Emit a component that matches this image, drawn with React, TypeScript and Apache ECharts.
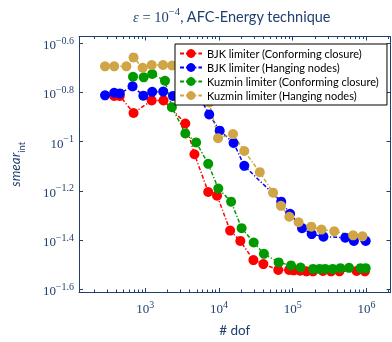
import React, { useEffect, useRef } from 'react';
import * as echarts from 'echarts';

// ---------- data ----------
const seriesNames = [
  'BJK limiter (Conforming closure)',
  'BJK limiter (Hanging nodes)',
  'Kuzmin limiter (Conforming closure)',
  'Kuzmin limiter (Hanging nodes)',
];
const seriesColors = ['#ff0000', '#0000ff', '#009a00', '#cfa545'];

const bjkConfDof = [378, 450, 692, 1221, 1765, 3488, 4642, 7134, 9404, 14150, 19470, 29290, 40000, 63680, 89270, 103100, 125900, 153700, 188800, 256600, 331100, 429900, 735600, 955000];
const bjkConfSmear = [0.1532, 0.1532, 0.1306, 0.1469, 0.1469, 0.1184, 0.0888, 0.0624, 0.0603, 0.0435, 0.0395, 0.0330, 0.0318, 0.0301, 0.0301, 0.0300, 0.0299, 0.0297, 0.0297, 0.0298, 0.0297, 0.0297, 0.0298, 0.0297];

const bjkHangDof = [284, 378, 450, 671, 941, 1240, 1748, 2377, 3744, 5412, 7356, 10216, 15750, 22020, 69820, 92040, 133850, 180900, 261400, 516800, 677000, 978800];
const bjkHangSmear = [0.1540, 0.1578, 0.1568, 0.1676, 0.1536, 0.1592, 0.1595, 0.1532, 0.1536, 0.1524, 0.1289, 0.1107, 0.0987, 0.0797, 0.0570, 0.0509, 0.0445, 0.0421, 0.0411, 0.0407, 0.0395, 0.0395];

const kuzConfDof = [681, 950, 1240, 1848, 2291, 3488, 4891, 7134, 9787, 14588, 20263, 29560, 40680, 64460, 94900, 127880, 188800, 231200, 275400, 349000, 443400, 580800, 831800, 978800];
const kuzConfSmear = [0.1833, 0.1823, 0.1880, 0.1766, 0.1379, 0.1079, 0.0992, 0.0812, 0.0644, 0.0570, 0.0445, 0.0389, 0.0350, 0.0323, 0.0314, 0.0308, 0.0304, 0.0304, 0.0304, 0.0304, 0.0306, 0.0307, 0.0306, 0.0306];

const kuzHangDof = [284, 378, 553, 692, 920, 1221, 1738, 2312, 3521, 5090, 7356, 9698, 15490, 22020, 35750, 54120, 69180, 89840, 120230, 179200, 245800, 366400, 660700, 884700];
const kuzHangSmear = [0.2020, 0.2020, 0.2020, 0.2196, 0.1994, 0.2045, 0.2045, 0.2035, 0.1976, 0.1806, 0.1442, 0.1032, 0.1072, 0.0915, 0.0751, 0.0620, 0.0548, 0.0495, 0.0470, 0.0451, 0.0439, 0.0432, 0.0416, 0.0412];

// tick labels (exponents of 10)
const xTickExponents = [3, 4, 5, 6];
const yTickExponents = [-0.6, -0.8, -1, -1.2, -1.4, -1.6];

// axis range (log10 units)
const xLogMin = 2.1;
const xLogMax = 6.327;
const yLogMin = -1.611;
const yLogMax = -0.5735;

const titleMath = 'ε';
const titleRest = ', AFC-Energy technique';
const xName = '# dof';

const allDof = [bjkConfDof, bjkHangDof, kuzConfDof, kuzHangDof];
const allSmear = [bjkConfSmear, bjkHangSmear, kuzConfSmear, kuzHangSmear];

const axisColor = '#203f6e';

function fmtExp(v: number): string {
  const r = Math.round(v * 10) / 10;
  return String(r).replace('-', '−');
}

const minorX: number[] = [];
for (let n = 2; n <= 6; n++) {
  for (let k = 2; k <= 9; k++) {
    const l = Math.log10(k * Math.pow(10, n));
    if (l > xLogMin && l < xLogMax) minorX.push(l);
  }
}

const labelRich = {
  b: { fontFamily: 'Liberation Serif', fontSize: 13, color: axisColor, lineHeight: 16, verticalAlign: 'bottom' },
  s: { fontFamily: 'Liberation Serif', fontSize: 10, color: axisColor, lineHeight: 10, verticalAlign: 'top' },
};

export default function App() {
  const ref = useRef<HTMLDivElement>(null);
  useEffect(() => {
    if (!ref.current) return;
    const chart = echarts.init(ref.current, null, { renderer: 'svg' });
    const baseX = { type: 'value', min: xLogMin, max: xLogMax, splitLine: { show: false } };
    const baseY = { type: 'value', min: yLogMin, max: yLogMax, splitLine: { show: false } };
    const option: any = {
      animation: false,
      grid: { left: 73.5, right: 1.5, top: 36.5, bottom: 39.7, containLabel: false },
      xAxis: [
        {
          ...baseX,
          position: 'bottom',
          axisLine: { show: true, lineStyle: { color: axisColor, width: 1 } },
          axisTick: { show: true, inside: true, length: 4, customValues: xTickExponents, lineStyle: { color: axisColor } },
          axisLabel: {
            customValues: xTickExponents,
            margin: 7,
            formatter: (v: number) => `{b|10}{s|${fmtExp(v)}}`,
            rich: labelRich,
          },
          name: xName,
          nameLocation: 'middle',
          nameGap: 31,
          nameTextStyle: { fontFamily: 'Lato', fontSize: 13.5, color: axisColor },
        },
        {
          ...baseX,
          position: 'bottom',
          axisLine: { show: false },
          axisTick: { show: true, inside: true, length: 2.5, customValues: minorX, lineStyle: { color: axisColor } },
          axisLabel: { show: false },
        },
        {
          ...baseX,
          position: 'top',
          axisLine: { show: true, lineStyle: { color: axisColor, width: 1 } },
          axisTick: { show: true, inside: true, length: 4, customValues: xTickExponents, lineStyle: { color: axisColor } },
          axisLabel: { show: false },
        },
        {
          ...baseX,
          position: 'top',
          axisLine: { show: false },
          axisTick: { show: true, inside: true, length: 2.5, customValues: minorX, lineStyle: { color: axisColor } },
          axisLabel: { show: false },
        },
      ],
      yAxis: [
        {
          ...baseY,
          position: 'left',
          axisLine: { show: true, lineStyle: { color: axisColor, width: 1 } },
          axisTick: { show: true, inside: true, length: 4, customValues: yTickExponents, lineStyle: { color: axisColor } },
          axisLabel: {
            customValues: yTickExponents,
            margin: 5,
            formatter: (v: number) => `{b|10}{s|${fmtExp(v)}}`,
            rich: labelRich,
          },
          name: '{i|smear}{s|int}',
          nameLocation: 'middle',
          nameRotate: 90,
          nameGap: 53,
          nameTextStyle: {
            rich: {
              i: { fontFamily: 'Lato', fontStyle: 'italic', fontSize: 13.5, color: axisColor, lineHeight: 18, verticalAlign: 'top' },
              s: { fontFamily: 'Lato', fontSize: 9.5, color: axisColor, lineHeight: 10, verticalAlign: 'bottom' },
            },
          },
        },
        {
          ...baseY,
          position: 'right',
          axisLine: { show: true, lineStyle: { color: axisColor, width: 1 } },
          axisTick: { show: true, inside: true, length: 4, customValues: yTickExponents, lineStyle: { color: axisColor } },
          axisLabel: { show: false },
        },
      ],
      legend: {
        data: seriesNames,
        orient: 'vertical',
        left: 175,
        top: 44,
        z: 10,
        backgroundColor: '#ffffff',
        borderColor: '#000000',
        borderWidth: 1,
        borderRadius: 0,
        padding: [4, 8, 4, 4],
        itemGap: 3,
        itemWidth: 22,
        itemHeight: 11,
        textStyle: { fontFamily: 'Lato', fontSize: 11, color: '#000' },
      },
      graphic: [
        {
          type: 'text',
          x: 232,
          y: 15,
          style: {
            text: `{e|${titleMath}}{m| = 10}{s|−4}{t|${titleRest}}`,
            align: 'center',
            verticalAlign: 'middle',
            rich: {
              e: { fontFamily: 'Liberation Serif', fontStyle: 'italic', fontSize: 14.5, fill: axisColor, lineHeight: 18, verticalAlign: 'bottom' },
              m: { fontFamily: 'Liberation Serif', fontSize: 14.5, fill: axisColor, lineHeight: 18, verticalAlign: 'bottom' },
              s: { fontFamily: 'Liberation Serif', fontSize: 10.5, fill: axisColor, lineHeight: 11, verticalAlign: 'top' },
              t: { fontFamily: 'Lato', fontSize: 14.5, fill: axisColor, lineHeight: 18, verticalAlign: 'bottom' },
            },
          },
        },
      ],
      series: seriesNames.map((name, i) => ({
        name,
        type: 'line',
        xAxisIndex: 0,
        yAxisIndex: 0,
        data: allDof[i].map((d, j) => [Math.log10(d), Math.log10(allSmear[i][j])]),
        symbol: 'circle',
        symbolSize: 10,
        showSymbol: true,
        clip: false,
        itemStyle: { color: seriesColors[i] },
        lineStyle: { color: seriesColors[i], width: 1.5, type: [4, 2, 1.2, 2] },
      })),
    };
    chart.setOption(option);
    return () => chart.dispose();
  }, []);
  return <div ref={ref} style={{ position: 'fixed', left: 0, top: 0, width: 392, height: 342 }} />;
}
